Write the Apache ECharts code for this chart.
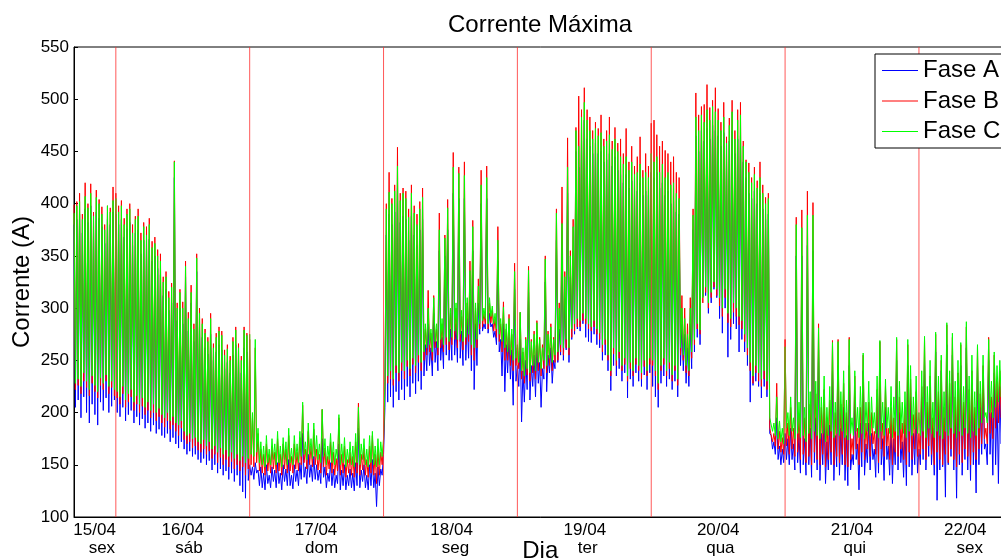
<!DOCTYPE html>
<html>
<head>
<meta charset="utf-8">
<title>Corrente Máxima</title>
<script src="https://cdn.jsdelivr.net/npm/echarts@6/dist/echarts.min.js"></script>
<style>
  html, body { margin: 0; padding: 0; background: #fff; overflow: hidden; }
  #chart { width: 1008px; height: 560px; }
</style>
</head>
<body>
<div id="chart"></div>
<script>
// Sampling: one value every 15 minutes, starting 15/04 at 16:30 (hours counted from 15/04 00:00)
const startHour = 16.5;
const stepHours = 0.25;

// Maximum current per phase (A); after the first line, each line holds one 12 h block
const faseA = [
  380,205,385,212,390,195,372,215,395,200,382,190,398,208,375,198,392,188,386,210,378,202,362,214,385,200,380,206,392,212,
  390,200,380,196,385,205,368,192,376,198,382,202,360,190,372,196,375,188,352,194,365,185,358,190,366,182,345,188,350,180,338,184,332,178,312,176,318,180,298,172,305,176,425,170,288,166,300,172,
  285,165,330,160,278,163,305,158,268,160,335,155,282,152,272,156,262,150,256,154,275,145,250,150,258,142,265,146,260,140,242,144,248,136,238,142,255,134,265,140,250,130,238,124,262,118,258,135,
  150,140,148,136,152,142,145,130,148,128,142,126,150,132,140,128,148,134,145,128,152,132,142,126,150,134,146,130,155,130,140,127,150,134,145,130,152,136,180,138,148,132,160,138,150,134,158,136,
  150,135,145,132,175,138,148,128,142,134,152,130,146,128,140,132,170,126,145,130,150,126,140,130,146,128,142,125,152,130,185,128,145,134,150,128,140,126,150,130,155,128,142,110,148,130,146,140,
  160,205,370,210,390,215,380,205,392,220,415,212,382,222,388,212,385,225,365,215,388,228,370,218,360,230,375,222,385,235,265,240,285,245,262,235,295,248,268,240,355,250,272,242,350,255,375,250,
  280,250,410,255,285,248,405,252,278,245,405,250,290,252,318,240,355,222,285,245,305,275,400,278,285,280,405,276,295,282,285,272,278,265,345,258,270,235,285,220,265,238,272,232,260,207,318,230,
  245,225,270,191,240,210,250,222,315,212,245,225,255,215,265,228,248,205,242,232,325,220,255,238,262,228,250,242,365,248,280,255,360,250,310,260,410,248,330,270,355,275,450,280,435,278,460,285,
  480,272,462,268,455,267,448,275,458,265,448,262,450,250,440,255,442,240,448,221,436,245,445,235,432,242,428,230,420,238,428,214,415,232,422,225,410,238,412,230,420,225,408,236,412,222,408,238,
  430,225,425,215,430,205,415,228,420,235,408,225,412,232,400,222,402,230,392,215,390,245,285,240,275,228,262,225,285,242,375,258,465,272,450,265,470,311,460,312,472,295,462,305,475,318,470,310,
  465,290,455,276,468,300,440,253,460,270,470,285,448,280,462,258,465,270,440,258,425,245,410,210,405,226,412,230,400,225,410,214,395,225,385,215,390,180,178,165,172,160,195,155,168,150,165,152,
  180,155,175,150,185,155,170,145,350,152,180,142,350,150,175,140,360,150,185,138,355,152,195,145,260,135,180,150,200,132,172,145,188,150,240,135,178,148,245,140,185,150,205,135,178,130,245,145,
  160,150,215,155,170,126,190,148,240,140,170,152,190,145,180,155,165,138,205,142,245,150,175,135,205,155,168,140,185,132,175,150,250,145,200,152,172,138,188,130,245,148,215,140,180,150,200,142,
  165,150,215,155,250,145,200,158,230,150,185,140,258,116,210,145,240,148,195,119,265,150,215,158,255,145,205,118,230,150,245,140,200,155,262,145,210,135,228,150,195,123,245,150,205,160,230,165,
  170,150,250,160,200,140,238,150,215,132,225,170,215,180,205
];

const faseB = [
  399,222,402,226,410,218,390,230,420,224,400,216,419,228,392,220,413,214,404,226,397,222,380,230,398,218,396,224,416,216,
  410,214,398,208,403,218,386,205,395,210,400,215,380,202,388,208,395,200,372,206,382,198,378,202,386,195,364,200,368,192,356,196,352,190,330,186,335,192,316,184,324,188,441,182,305,178,318,185,
  306,174,345,170,296,172,322,166,285,168,352,164,300,162,290,165,280,160,272,163,295,156,266,160,276,152,282,157,278,150,260,155,265,148,254,153,272,146,282,150,266,144,254,148,282,140,276,146,
  270,150,195,148,262,152,180,144,165,142,160,140,170,144,160,142,168,146,162,142,175,144,160,140,170,146,165,142,178,144,158,142,170,146,162,144,176,150,207,152,165,146,182,150,168,148,184,150,
  165,145,160,142,203,148,166,140,158,146,172,142,162,140,156,144,195,140,160,142,168,138,155,142,162,140,158,138,172,142,209,140,160,145,166,140,155,138,168,142,178,140,160,132,165,140,162,150,
  170,225,400,228,430,232,405,226,418,238,454,230,410,240,415,232,412,244,395,235,418,246,398,238,390,248,402,240,415,250,280,255,317,258,276,250,312,262,280,255,391,262,285,258,370,265,404,260,
  295,265,449,270,300,262,435,268,292,260,440,265,305,268,345,255,384,250,300,262,328,280,432,282,295,285,436,280,305,286,298,278,290,272,378,268,285,258,306,250,280,250,294,245,275,240,343,245,
  262,242,296,232,258,228,272,236,340,230,270,238,278,232,288,240,272,235,265,242,350,238,278,245,285,240,272,248,395,250,305,258,416,255,335,262,463,255,355,272,385,278,473,282,503,282,490,288,
  511,285,490,280,483,278,470,282,478,275,472,270,485,258,462,265,470,250,483,235,460,256,473,245,458,252,462,240,448,246,472,230,440,242,455,235,436,246,445,240,464,232,432,244,448,235,436,246,
  477,245,480,235,466,222,455,240,460,246,451,235,448,242,440,230,445,240,430,226,425,255,312,250,300,238,285,235,310,252,395,265,506,280,485,275,493,305,495,315,514,300,492,310,499,320,511,312,
  491,302,478,292,497,310,464,286,482,282,499,296,470,292,490,284,497,280,460,268,442,255,439,240,425,228,435,238,422,230,440,225,418,232,406,222,410,185,185,172,180,168,228,165,182,162,176,160,
  270,168,190,160,205,165,185,158,387,162,198,155,394,160,195,152,412,158,208,150,401,162,218,155,285,150,205,160,222,148,195,155,212,162,269,150,200,158,270,152,208,160,228,150,200,148,272,155,
  175,160,235,165,185,150,205,162,255,155,190,165,210,158,200,170,182,160,222,152,268,165,190,158,225,168,185,155,205,150,195,162,270,158,215,165,190,155,205,150,265,162,232,155,198,165,220,158,
  180,160,225,165,270,155,210,168,235,160,195,150,275,162,220,155,250,150,205,160,284,152,228,165,272,155,215,148,238,160,265,152,210,165,282,158,222,150,240,162,205,155,263,165,218,170,245,175,
  185,170,272,180,215,175,255,185,230,190,240,195,228,200,222
];

const faseC = [
  391,228,398,232,402,225,385,238,407,230,396,222,410,235,388,226,406,220,400,233,390,228,375,236,398,225,392,230,403,222,
  405,220,392,215,398,225,380,212,390,218,395,222,372,210,385,216,388,208,365,214,378,205,370,210,380,202,358,208,362,200,350,204,345,198,325,195,330,200,310,192,320,196,440,190,300,188,315,192,
  300,182,340,178,290,180,315,175,280,176,348,172,295,170,285,174,276,168,268,172,290,165,262,168,272,162,278,166,274,160,255,164,261,158,250,162,268,156,279,160,262,154,250,158,279,152,274,156,
  275,160,200,158,270,162,185,152,172,150,168,148,178,152,165,150,175,155,170,150,182,152,168,148,176,155,172,150,185,152,166,150,178,155,170,152,182,158,210,160,172,155,190,160,175,156,190,158,
  178,155,170,152,203,158,175,150,168,155,180,152,172,150,165,155,198,150,170,152,176,148,165,152,172,150,168,148,180,152,205,150,170,155,175,150,165,148,178,152,182,150,168,148,175,150,172,158,
  175,230,395,235,411,240,400,232,412,245,436,238,403,248,410,240,405,250,387,242,410,252,391,245,380,255,395,248,406,258,285,262,300,265,280,258,310,268,285,262,375,270,290,265,367,272,396,268,
  300,272,435,278,305,270,429,275,298,268,427,272,310,275,336,265,378,262,305,270,321,285,418,288,300,290,425,285,310,292,302,285,295,280,365,275,290,268,301,262,285,258,290,255,280,250,335,252,
  265,248,296,240,262,235,270,242,336,238,268,245,275,240,286,248,270,242,262,250,347,245,275,252,282,248,270,255,391,258,300,265,381,262,330,270,435,262,350,280,378,285,470,290,455,288,483,295,
  497,290,480,285,470,282,462,288,472,280,465,276,468,265,455,270,460,255,466,240,452,262,462,250,450,258,445,245,438,252,445,235,432,248,440,240,428,252,430,245,438,238,425,250,430,240,425,252,
  448,250,440,240,445,228,430,245,438,252,425,240,430,248,418,236,420,245,410,232,405,262,300,255,290,245,275,240,300,258,389,270,483,285,470,279,485,310,478,320,490,305,480,315,493,325,488,318,
  480,310,470,300,483,318,458,295,475,290,488,305,462,300,480,292,485,288,455,275,440,262,430,248,420,235,428,245,415,238,425,232,410,240,400,230,405,195,195,182,190,178,215,175,192,172,185,170,
  263,185,200,178,215,182,195,175,380,180,210,176,377,178,205,172,389,180,220,175,389,182,230,178,281,175,215,180,235,172,205,178,225,182,267,176,210,180,268,178,220,182,240,176,212,174,270,180,
  195,178,240,182,205,176,225,180,257,175,210,182,230,178,215,185,200,180,235,176,269,182,210,178,232,185,205,180,225,176,215,182,272,178,230,184,210,180,220,176,270,182,245,178,215,184,235,180,
  200,178,240,182,273,176,225,185,250,180,210,176,277,182,235,178,255,175,220,182,286,178,240,185,276,180,230,176,250,182,267,178,225,185,287,180,235,176,255,182,220,178,265,185,230,190,255,195,
  200,190,270,200,230,195,258,205,245,210,250,215,240,220,235
];

// Midnight separators between days (hours)
const dayBoundaries = [24, 48, 72, 96, 120, 144, 168];

// Bottom axis labels: date line and weekday line, with their positions in hours
const dateLabels = ['15/04', '16/04', '17/04', '18/04', '19/04', '20/04', '21/04', '22/04'];
const dateLabelHours = [20.2, 36, 59.9, 84.2, 108.1, 132, 156, 176.3];
const weekdayLabels = ['sex', 'sáb', 'dom', 'seg', 'ter', 'qua', 'qui', 'sex'];
const weekdayLabelHours = [21.5, 37.1, 60.9, 84.9, 108.6, 132.4, 156.5, 177.1];

const seriesNames = ['Fase A', 'Fase B', 'Fase C'];
const seriesValues = [faseA, faseB, faseC];
const seriesColors = ['#0000ff', '#ff0000', '#00ff00'];

// Axis ranges
const xMin = 16.5, xMax = 183.7;
const yMin = 100, yMax = 550, yStep = 50;

const FONT = "'Liberation Sans', Arial, Helvetica, sans-serif";

function labelAt(hours, labels) {
  return function (value) {
    let best = 0;
    for (let i = 1; i < hours.length; i++) {
      if (Math.abs(hours[i] - value) < Math.abs(hours[best] - value)) best = i;
    }
    return labels[best];
  };
}

const series = seriesNames.map(function (name, k) {
  return {
    name: name,
    type: 'line',
    xAxisIndex: 0,
    yAxisIndex: 0,
    data: seriesValues[k].map(function (v, i) { return [startHour + i * stepHours, v]; }),
    showSymbol: false,
    symbol: 'none',
    color: seriesColors[k],
    itemStyle: { color: seriesColors[k] },
    lineStyle: { color: seriesColors[k], width: 1 },
    emphasis: { disabled: true },
    silent: true,
    clip: true
  };
});

// Vertical day separators, drawn over the data
dayBoundaries.forEach(function (h) {
  series.push({
    name: 'meia-noite ' + h,
    type: 'line',
    xAxisIndex: 0,
    yAxisIndex: 0,
    data: [[h, yMin], [h, yMax]],
    showSymbol: false,
    symbol: 'none',
    lineStyle: { color: '#ff3030', width: 1, opacity: 0.8 },
    emphasis: { disabled: true },
    silent: true,
    z: 3
  });
});

const chart = echarts.init(document.getElementById('chart'), null, { renderer: 'canvas' });

chart.setOption({
  animation: false,
  backgroundColor: '#ffffff',
  textStyle: { fontFamily: FONT, color: '#000' },
  grid: {
    left: 74, right: 1.5, top: 47, bottom: 43,
    show: true, borderColor: '#000', borderWidth: 1, backgroundColor: '#fff',
    containLabel: false, outerBoundsMode: 'none'
  },
  graphic: [{
    type: 'text',
    x: 540, y: 25,
    style: {
      text: 'Corrente Máxima',
      fontFamily: FONT, fontSize: 24, fill: '#000',
      textAlign: 'center', textVerticalAlign: 'middle'
    }
  }],
  legend: {
    orient: 'vertical',
    left: 875, top: 54,
    data: seriesNames.map(function (n, k) {
      return { name: n, itemStyle: { color: seriesColors[k] } };
    }),
    icon: 'rect',
    itemWidth: 36, itemHeight: 1, itemGap: 6.5,
    padding: [4.5, 14, 4.5, 7],
    borderColor: '#000', borderWidth: 1, borderRadius: 0,
    backgroundColor: '#fff',
    selectedMode: false,
    textStyle: { fontFamily: FONT, fontSize: 24, color: '#000' }
  },
  xAxis: [{
    type: 'value',
    min: xMin, max: xMax,
    position: 'bottom',
    name: 'Dia',
    nameLocation: 'middle',
    nameGap: 22.5,
    nameMoveOverlap: false,
    nameTextStyle: { fontFamily: FONT, fontSize: 24, color: '#000' },
    axisLine: { show: true, lineStyle: { color: '#000', width: 1 } },
    axisTick: { show: false },
    splitLine: { show: false },
    axisLabel: {
      customValues: dateLabelHours,
      formatter: labelAt(dateLabelHours, dateLabels),
      margin: 4.5,
      fontFamily: FONT, fontSize: 17, color: '#000'
    }
  }, {
    type: 'value',
    min: xMin, max: xMax,
    position: 'bottom',
    axisLine: { show: false },
    axisTick: { show: false },
    splitLine: { show: false },
    axisLabel: {
      customValues: weekdayLabelHours,
      formatter: labelAt(weekdayLabelHours, weekdayLabels),
      margin: 23,
      fontFamily: FONT, fontSize: 17, color: '#000'
    }
  }],
  yAxis: {
    type: 'value',
    min: yMin, max: yMax, interval: yStep,
    name: 'Corrente (A)',
    nameLocation: 'middle',
    nameGap: 40,
    nameMoveOverlap: false,
    nameTextStyle: { fontFamily: FONT, fontSize: 24, color: '#000' },
    axisLine: { show: true, lineStyle: { color: '#000', width: 1 } },
    axisTick: { show: true, inside: true, length: 4, lineStyle: { color: '#000' } },
    splitLine: { show: false },
    axisLabel: { margin: 5, fontFamily: FONT, fontSize: 17, color: '#000' }
  },
  series: series
});
</script>
</body>
</html>
